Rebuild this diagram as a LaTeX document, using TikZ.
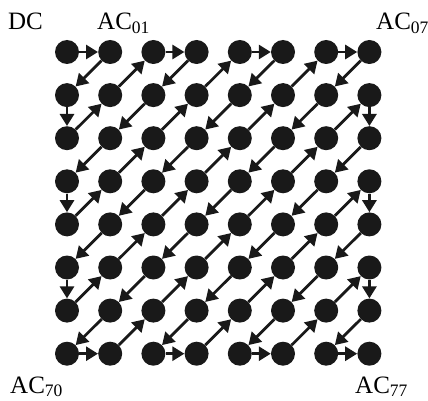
\documentclass[tikz,border=0pt]{standalone}
\usepackage{fontspec}
\setmainfont{Liberation Serif}
\usetikzlibrary{arrows.meta}

\tikzset{
  dot/.style={circle, fill=black!90, minimum size=24pt, inner sep=0pt},
  scan/.style={-{Triangle[length=12pt,width=14pt]}, line width=2.8pt, draw=black!90},
  lbl/.style={anchor=base west, inner sep=0pt, font=\fontsize{25}{27}\selectfont}
}

\begin{document}
\begin{tikzpicture}[x=1pt, y=-1pt]
  \useasboundingbox (0,0) rectangle (428,401);
  % 8x8 block of coefficients
  \foreach \r in {0,...,7}
    \foreach \c in {0,...,7}
      \node[dot] (n\r\c) at ({67+43.2*\c},{52+43.1*\r}) {};
  % zigzag scan, one arrow per step
  \foreach \r in {0,...,7}
    \foreach \c in {0,...,7} {
      \pgfmathtruncatemacro{\odd}{mod(\r+\c,2)}
      \ifnum\odd=0
        \ifnum\c=7 \pgfmathtruncatemacro{\nr}{\r+1}\pgfmathtruncatemacro{\nc}{\c}%
        \else\ifnum\r=0 \pgfmathtruncatemacro{\nr}{\r}\pgfmathtruncatemacro{\nc}{\c+1}%
        \else \pgfmathtruncatemacro{\nr}{\r-1}\pgfmathtruncatemacro{\nc}{\c+1}\fi\fi
      \else
        \ifnum\r=7 \pgfmathtruncatemacro{\nr}{\r}\pgfmathtruncatemacro{\nc}{\c+1}%
        \else\ifnum\c=0 \pgfmathtruncatemacro{\nr}{\r+1}\pgfmathtruncatemacro{\nc}{\c}%
        \else \pgfmathtruncatemacro{\nr}{\r+1}\pgfmathtruncatemacro{\nc}{\c-1}\fi\fi
      \fi
      \ifnum\nr<8 \ifnum\nc<8 \draw[scan] (n\r\c) -- (n\nr\nc); \fi\fi
    }
  % labels
  \node[lbl] (dc) at (8,30) {DC};
  \node[lbl] (ac01) at (97,30) {AC\textsubscript{01}};
  \node[lbl] (ac07) at (376,30) {AC\textsubscript{07}};
  \node[lbl] (ac70) at (10,393) {AC\textsubscript{70}};
  \node[lbl] (ac77) at (355,393) {AC\textsubscript{77}};
\end{tikzpicture}
\end{document}
